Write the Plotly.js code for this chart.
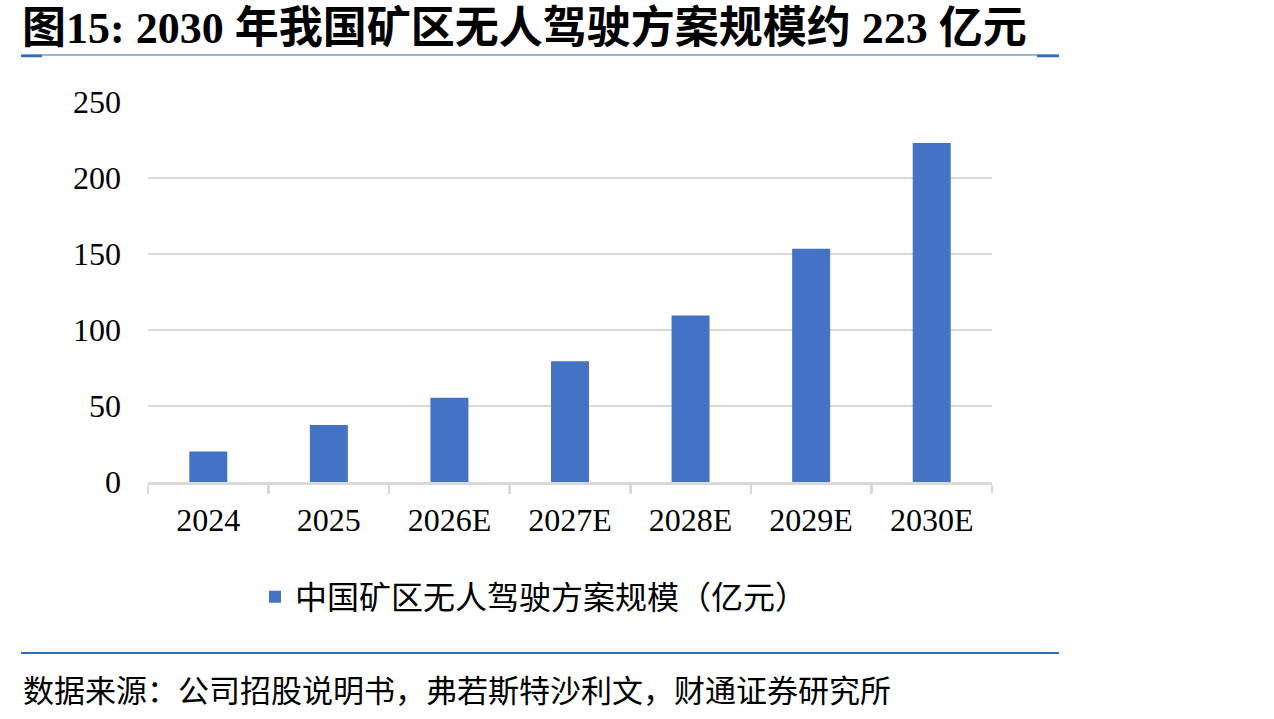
<!DOCTYPE html>
<html>
<head>
<meta charset="utf-8">
<script src="https://cdn.plot.ly/plotly-3.0.1.min.js"></script>
<style>
  html, body { margin: 0; padding: 0; background: #ffffff; }
  #chart { width: 1274px; height: 719px; }
</style>
</head>
<body>
<div id="chart"></div>
<script>
// Market size of driverless mining solutions in China (100 million CNY)
const years = ['2024', '2025', '2026E', '2027E', '2028E', '2029E', '2030E'];
const marketSize = [20, 37.5, 55.5, 79.5, 109.5, 153.5, 223];
const seriesName = '中国矿区无人驾驶方案规模（亿元）';
const yTicks = [0, 50, 100, 150, 200, 250];

const titleText = '图15: 2030 年我国矿区无人驾驶方案规模约 223 亿元';
const sourceText = '数据来源：公司招股说明书，弗若斯特沙利文，财通证券研究所';

const W = 1274, H = 719;
const M = { l: 148, r: 282, t: 102, b: 237 };
const plotW = W - M.l - M.r;
const plotH = H - M.t - M.b;
// pixel -> paper coordinates helpers for decorations
const px = x => (x - M.l) / plotW;
const py = y => (H - M.b - y) / plotH;

const serif = '"Liberation Serif", "Times New Roman", serif';
const cjk = '"Liberation Serif", "Noto Sans CJK SC", serif';
const grid = '#d9d9d9';
const rule = '#2E6DB8';

const trace = {
  type: 'bar',
  x: years,
  y: marketSize,
  name: seriesName,
  marker: { color: '#4472C4', line: { width: 0 } },
  hoverinfo: 'x+y'
};

const layout = {
  width: W,
  height: H,
  margin: M,
  paper_bgcolor: '#ffffff',
  plot_bgcolor: '#ffffff',
  bargap: 0.685,
  showlegend: true,
  title: {
    text: titleText,
    font: { family: cjk, size: 44, color: '#000000', weight: 'bold' },
    xref: 'container', yref: 'container',
    x: 22 / W, xanchor: 'left',
    y: 1 - 28 / H, yanchor: 'middle'
  },
  xaxis: {
    type: 'category',
    tickson: 'boundaries',
    ticks: 'outside',
    ticklen: 9,
    tickwidth: 2.5,
    tickcolor: grid,
    showline: true,
    linecolor: grid,
    linewidth: 2.5,
    showgrid: false,
    zeroline: false,
    tickfont: { family: serif, size: 32, color: '#000000' },
    ticklabelstandoff: 8
  },
  yaxis: {
    range: [0, 250],
    tickvals: yTicks,
    ticktext: yTicks.map(String),
    showgrid: true,
    gridcolor: grid,
    gridwidth: 2.5,
    zeroline: false,
    showline: false,
    ticks: '',
    tickfont: { family: serif, size: 32, color: '#000000' },
    ticklabelstandoff: 26
  },
  legend: {
    orientation: 'h',
    x: px(255), xanchor: 'left',
    y: py(597), yanchor: 'middle',
    font: { family: '"Noto Sans CJK SC", sans-serif', size: 32, color: '#000000' },
    bgcolor: 'rgba(0,0,0,0)',
    borderwidth: 0
  },
  shapes: [
    // rule under the title
    { type: 'line', xref: 'paper', yref: 'paper', x0: px(21), x1: px(1059), y0: py(55), y1: py(55),
      line: { color: rule, width: 1.2 } },
    { type: 'line', xref: 'paper', yref: 'paper', x0: px(21), x1: px(42), y0: py(56), y1: py(56),
      line: { color: rule, width: 2.5 } },
    { type: 'line', xref: 'paper', yref: 'paper', x0: px(1037), x1: px(1059), y0: py(56), y1: py(56),
      line: { color: rule, width: 2.5 } },
    // rule above the source line
    { type: 'line', xref: 'paper', yref: 'paper', x0: px(21), x1: px(1059), y0: py(653), y1: py(653),
      line: { color: rule, width: 2 } }
  ],
  annotations: [
    {
      text: sourceText,
      xref: 'paper', yref: 'paper',
      x: px(21), y: py(688), xanchor: 'left', yanchor: 'middle',
      showarrow: false,
      font: { family: '"Noto Sans CJK SC", sans-serif', size: 31, color: '#000000' }
    }
  ]
};

Plotly.newPlot('chart', [trace], layout, { displayModeBar: false, staticPlot: true });
</script>
</body>
</html>
